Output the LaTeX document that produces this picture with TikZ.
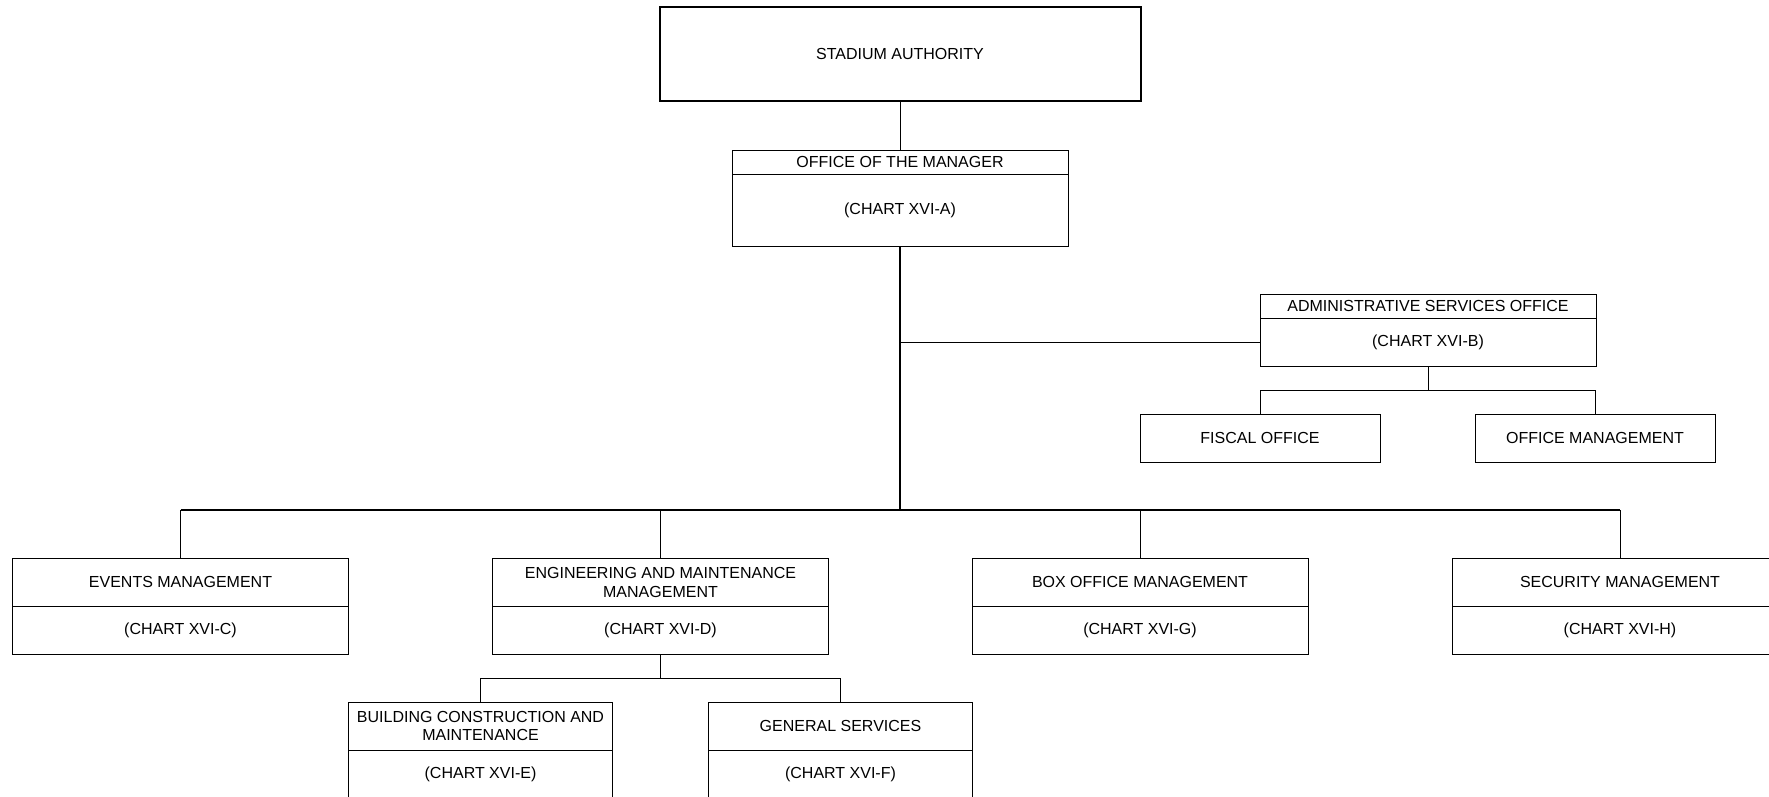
\documentclass[tikz,border=0pt]{standalone}
\usepackage{fontspec}
\setmainfont{Liberation Sans}
\begin{document}
\begin{tikzpicture}[x=1pt,y=-1pt,
  orgbox/.style={draw, line width=0.9pt, inner sep=0pt, outer sep=0pt, align=center,
    font=\fontsize{16}{18.4}\selectfont},
  link/.style={line width=0.9pt},
  trunk/.style={line width=1.7pt}]
\useasboundingbox (0,0) rectangle (1769,796);
% top
\node[orgbox, line width=2pt, minimum width=481pt, minimum height=94pt] (sa) at (900,54) {STADIUM AUTHORITY};
\node[orgbox, minimum width=336pt, minimum height=23.3pt] (omt) at (900,162.3) {OFFICE OF THE MANAGER};
\node[orgbox, minimum width=336pt, minimum height=72pt] (omc) at (900,210) {(CHART XVI-A)};
% administrative
\node[orgbox, minimum width=336pt, minimum height=24pt] (admt) at (1428,306.3) {ADMINISTRATIVE SERVICES OFFICE};
\node[orgbox, minimum width=336pt, minimum height=47.7pt] (admc) at (1428,342.2) {(CHART XVI-B)};
\node[orgbox, minimum width=240pt, minimum height=48pt] (fis) at (1260,438.3) {FISCAL OFFICE};
\node[orgbox, minimum width=240pt, minimum height=48pt] (ofm) at (1595,438.3) {OFFICE MANAGEMENT};
% second level
\node[orgbox, minimum width=336pt, minimum height=48pt] (evt) at (180.5,582.3) {EVENTS MANAGEMENT};
\node[orgbox, minimum width=336pt, minimum height=48pt] (evc) at (180.5,630.3) {(CHART XVI-C)};
\node[orgbox, minimum width=336pt, minimum height=48pt] (engt) at (660.5,582.3) {ENGINEERING AND MAINTENANCE\\MANAGEMENT};
\node[orgbox, minimum width=336pt, minimum height=48pt] (engc) at (660.5,630.3) {(CHART XVI-D)};
\node[orgbox, minimum width=336pt, minimum height=48pt] (boxt) at (1140,582.3) {BOX OFFICE MANAGEMENT};
\node[orgbox, minimum width=336pt, minimum height=48pt] (boxc) at (1140,630.3) {(CHART XVI-G)};
\node[orgbox, minimum width=336pt, minimum height=48pt] (sect) at (1620,582.3) {SECURITY MANAGEMENT};
\node[orgbox, minimum width=336pt, minimum height=48pt] (secc) at (1620,630.3) {(CHART XVI-H)};
% third level
\node[orgbox, minimum width=264pt, minimum height=48pt] (bldt) at (480.5,726) {BUILDING CONSTRUCTION AND\\MAINTENANCE};
\node[orgbox, minimum width=264pt, minimum height=48pt] (bldc) at (480.5,774) {(CHART XVI-E)};
\node[orgbox, minimum width=264pt, minimum height=48pt] (gent) at (840.5,726) {GENERAL SERVICES};
\node[orgbox, minimum width=264pt, minimum height=48pt] (genc) at (840.5,774) {(CHART XVI-F)};
% junctions
\coordinate (j) at (900,510.3);
\coordinate (ab) at (1428,390);
\coordinate (eb) at (660.5,678.3);
% connectors
\draw[link] (sa.south) -- (omt.north);
\draw[trunk] (omc.south) -- (j);
\draw[link] (omc.south |- admc.west) -- (admc.west);
\draw[trunk] (evt.north |- j) -- (sect.north |- j);
\draw[link] (evt.north) -- (evt.north |- j);
\draw[link] (engt.north) -- (engt.north |- j);
\draw[link] (boxt.north) -- (boxt.north |- j);
\draw[link] (sect.north) -- (sect.north |- j);
\draw[link] (admc.south) -- (ab);
\draw[link] (fis.north) -- (fis.north |- ab) -- (ofm.north |- ab) -- (ofm.north);
\draw[link] (engc.south) -- (eb);
\draw[link] (bldt.north) -- (bldt.north |- eb) -- (gent.north |- eb) -- (gent.north);
\end{tikzpicture}
\end{document}
